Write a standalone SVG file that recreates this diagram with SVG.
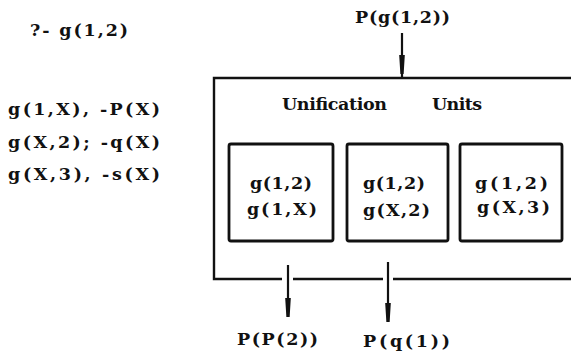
<svg xmlns="http://www.w3.org/2000/svg" width="571" height="353" viewBox="0 0 571 353">
  <style>
    text { font-family: "DejaVu Serif", "Liberation Serif", serif; font-weight: bold; font-size: 17.5px; fill: #111; }
    .wire { stroke: #111; stroke-width: 2.2; fill: none; }
    .unit { stroke: #111; stroke-width: 2.8; fill: #fff; }
    .frame { stroke: #111; stroke-width: 2.4; fill: none; }
  </style>
  <defs>
    <!-- slender tapered arrowhead, tip at origin pointing down -->
    <path id="tip" d="M -2.8 -19 L 2.8 -19 L 1.6 0 L -1.6 0 Z" fill="#111"/>
  </defs>

  <!-- query and program clauses -->
  <g id="query">
    <text x="30" y="36" textLength="98" lengthAdjust="spacing">?- g(1,2)</text>
  </g>
  <g id="clauses">
    <text x="8" y="115" textLength="152" lengthAdjust="spacing">g(1,X), -P(X)</text>
    <text x="8" y="148" textLength="152" lengthAdjust="spacing">g(X,2); -q(X)</text>
    <text x="8" y="180" textLength="152" lengthAdjust="spacing">g(X,3), -s(X)</text>
  </g>

  <!-- processor frame (open on the right) -->
  <g id="frame">
    <path class="frame" d="M 571 78 L 214 78 L 214 279 L 282 279 M 293 279 L 383 279 M 393 279 L 571 279"/>
    <text x="282" y="110" textLength="105" lengthAdjust="spacing">Unification</text>
    <text x="432" y="110" textLength="50" lengthAdjust="spacing">Units</text>
  </g>

  <!-- unification units -->
  <g id="unit1">
    <rect class="unit" x="229" y="144" width="104" height="97" rx="2"/>
    <text x="250" y="189" textLength="62" lengthAdjust="spacing">g(1,2)</text>
    <text x="247" y="215" textLength="70" lengthAdjust="spacing">g(1,X)</text>
  </g>
  <g id="unit2">
    <rect class="unit" x="347" y="144" width="101" height="97" rx="2"/>
    <text x="363" y="189" textLength="62" lengthAdjust="spacing">g(1,2)</text>
    <text x="363" y="216" textLength="67" lengthAdjust="spacing">g(X,2)</text>
  </g>
  <g id="unit3">
    <rect class="unit" x="460" y="144" width="102" height="97" rx="2"/>
    <text x="475" y="189" textLength="73" lengthAdjust="spacing">g(1,2)</text>
    <text x="477" y="213" textLength="73" lengthAdjust="spacing">g(X,3)</text>
  </g>

  <!-- input and output terms -->
  <g id="input">
    <text x="355" y="23" textLength="95" lengthAdjust="spacing">P(g(1,2))</text>
  </g>
  <g id="output1">
    <text x="237" y="345" textLength="81" lengthAdjust="spacing">P(P(2))</text>
  </g>
  <g id="output2">
    <text x="363" y="347" textLength="87" lengthAdjust="spacing">P(q(1))</text>
  </g>

  <!-- connectors -->
  <g id="connectors">
    <line class="wire" x1="402" y1="33" x2="402" y2="78"/>
    <use href="#tip" x="402" y="74"/>
    <line class="wire" x1="288" y1="265" x2="288" y2="317"/>
    <use href="#tip" x="288" y="317"/>
    <line class="wire" x1="388" y1="262" x2="388" y2="322"/>
    <use href="#tip" x="388" y="322"/>
  </g>
</svg>
